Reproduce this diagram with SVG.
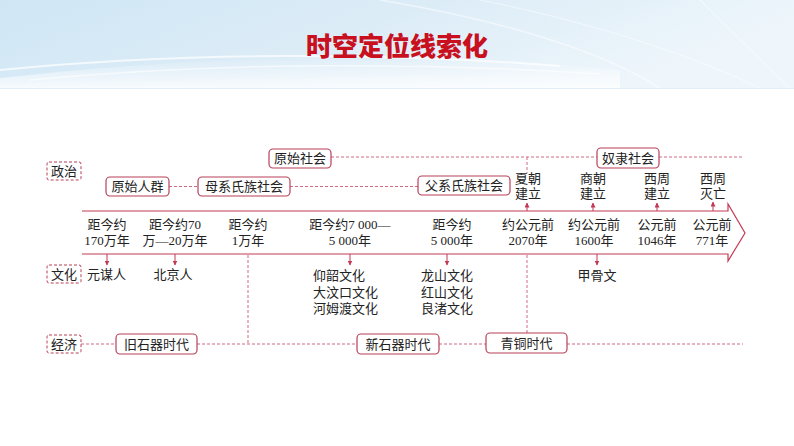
<svg xmlns="http://www.w3.org/2000/svg" width="794" height="446" viewBox="0 0 794 446">
<defs>
<linearGradient id="hdr" x1="0" y1="0" x2="1" y2="0.3">
<stop offset="0" stop-color="#cfe6f5"/>
<stop offset="0.5" stop-color="#dcecf7"/>
<stop offset="1" stop-color="#eef6fb"/>
</linearGradient>
<linearGradient id="hdrb" x1="0" y1="0" x2="0" y2="1">
<stop offset="0" stop-color="#ffffff" stop-opacity="0"/>
<stop offset="1" stop-color="#ffffff" stop-opacity="0.8"/>
</linearGradient>
<marker id="ah" viewBox="0 0 10 10" refX="9" refY="5" markerWidth="5" markerHeight="5" orient="auto">
<path d="M0,0 L10,5 L0,10 Z" fill="#c43a55"/>
</marker>
<style>
.t{font-family:"Liberation Serif","Noto Sans CJK SC",serif;font-size:13px;fill:#222;}
.c{text-anchor:middle;}
.box{fill:#fff;stroke:#b8405a;stroke-width:1.2;}
.dbox{fill:#fff;stroke:#b8405a;stroke-width:1;stroke-dasharray:3,2;}
.dl{stroke:#cf6a82;stroke-width:1;stroke-dasharray:3,2;fill:none;}
.ln{stroke:#c43a55;stroke-width:1.2;fill:none;}
.ar{stroke:#c43a55;stroke-width:1;fill:none;marker-end:url(#ah);}
</style>
</defs>
<rect width="794" height="446" fill="#fff"/>
<g id="header">
<rect x="0" y="0" width="794" height="88" fill="url(#hdr)"/>
<path d="M0,78 C200,55 420,50 620,70 L620,88 L0,88 Z" fill="url(#hdrb)"/>
<path d="M0,70 C180,52 380,52 560,66" stroke="#fff" stroke-width="2" fill="none" opacity="0.7"/>
<path d="M30,80 C220,62 420,62 600,74" stroke="#fff" stroke-width="1.5" fill="none" opacity="0.6"/>
<path d="M380,0 C500,20 600,50 660,88" stroke="#fff" stroke-width="1.5" fill="none" opacity="0.5"/>
<path d="M480,0 C580,20 680,50 760,88" stroke="#fff" stroke-width="1" fill="none" opacity="0.5"/>
<path d="M700,0 C730,30 760,60 790,88" stroke="#fff" stroke-width="1" fill="none" opacity="0.6"/>
<line x1="0" y1="88.5" x2="794" y2="88.5" stroke="#e3eef6" stroke-width="1"/>
<text x="397" y="56" text-anchor="middle" font-family="'Noto Sans CJK SC',sans-serif" font-weight="900" font-size="26" fill="#c8101e">时空定位线索化</text>
</g>
<g id="connectors">
<path class="dl" d="M331,157 H597 M659,157 H743"/>
<path class="dl" d="M169,186.5 H198 M290,186.5 H418"/>
<path class="dl" d="M527,157 V173"/>
<path class="dl" d="M248,255 V343"/>
<path class="dl" d="M527,255 V333"/>
<path class="dl" d="M81,344 H116 M197,344 H357 M439,344 H486 M567,344 H743"/>
<path class="ar" d="M527,211 V203"/>
<path class="ar" d="M593,211 V203"/>
<path class="ar" d="M657,211 V203"/>
<path class="ar" d="M713,211 V202"/>
<path class="ar" d="M107,254 V265"/>
<path class="ar" d="M175,254 V265"/>
<path class="ar" d="M350,254 V265"/>
<path class="ar" d="M447,254 V265"/>
<path class="ar" d="M597,254 V265"/>
</g>
<g id="timeline">
<path class="ln" d="M82,211 H728 V204 L745,233 L728,261 V254 H82"/>
</g>
<g id="label-zhengzhi"><rect class="dbox" x="47" y="162" width="34" height="18" rx="2"/><text class="t c" x="64" y="176">政治</text></g>
<g id="label-wenhua"><rect class="dbox" x="47" y="265" width="34" height="18" rx="2"/><text class="t c" x="64" y="279">文化</text></g>
<g id="label-jingji"><rect class="dbox" x="47" y="335" width="34" height="18" rx="2"/><text class="t c" x="64" y="349">经济</text></g>
<g id="n-yuanshishehui"><rect class="box" x="269" y="149" width="62" height="19" rx="4"/><text class="t c" x="300" y="163">原始社会</text></g>
<g id="n-nulishehui"><rect class="box" x="597" y="148" width="62" height="20" rx="4"/><text class="t c" x="628" y="163">奴隶社会</text></g>
<g id="n-yuanshirenqun"><rect class="box" x="106" y="177" width="63" height="19" rx="4"/><text class="t c" x="137.5" y="191">原始人群</text></g>
<g id="n-muxi"><rect class="box" x="198" y="177" width="92" height="19" rx="4"/><text class="t c" x="244" y="191">母系氏族社会</text></g>
<g id="n-fuxi"><rect class="box" x="418" y="176" width="92" height="19" rx="4"/><text class="t c" x="464" y="190">父系氏族社会</text></g>
<g id="n-xia"><text class="t c" x="528" y="183">夏朝</text><text class="t c" x="528" y="198">建立</text></g>
<g id="n-shang"><text class="t c" x="593" y="183">商朝</text><text class="t c" x="593" y="198">建立</text></g>
<g id="n-xizhou1"><text class="t c" x="657" y="183">西周</text><text class="t c" x="657" y="198">建立</text></g>
<g id="n-xizhou2"><text class="t c" x="713" y="183">西周</text><text class="t c" x="713" y="198">灭亡</text></g>
<g id="d1"><text class="t c" x="107" y="229">距今约</text><text class="t c" x="107" y="245">170万年</text></g>
<g id="d2"><text class="t c" x="175" y="229">距今约70</text><text class="t c" x="175" y="245">万—20万年</text></g>
<g id="d3"><text class="t c" x="248" y="229">距今约</text><text class="t c" x="248" y="245">1万年</text></g>
<g id="d4"><text class="t c" x="350" y="229">距今约7 000—</text><text class="t c" x="350" y="245">5 000年</text></g>
<g id="d5"><text class="t c" x="452" y="229">距今约</text><text class="t c" x="452" y="245">5 000年</text></g>
<g id="d6"><text class="t c" x="528" y="229">约公元前</text><text class="t c" x="528" y="245">2070年</text></g>
<g id="d7"><text class="t c" x="594" y="229">约公元前</text><text class="t c" x="594" y="245">1600年</text></g>
<g id="d8"><text class="t c" x="657" y="229">公元前</text><text class="t c" x="657" y="245">1046年</text></g>
<g id="d9"><text class="t c" x="712" y="229">公元前</text><text class="t c" x="712" y="245">771年</text></g>
<g id="c-yuanmou"><text class="t" x="87" y="279">元谋人</text></g>
<g id="c-beijing"><text class="t c" x="173" y="279">北京人</text></g>
<g id="c-yangshao"><text class="t" x="313" y="280">仰韶文化</text><text class="t" x="313" y="297">大汶口文化</text><text class="t" x="313" y="313">河姆渡文化</text></g>
<g id="c-longshan"><text class="t" x="421" y="280">龙山文化</text><text class="t" x="421" y="297">红山文化</text><text class="t" x="421" y="313">良渚文化</text></g>
<g id="c-jiagu"><text class="t c" x="597" y="280">甲骨文</text></g>
<g id="e-jiushiqi"><rect class="box" x="116" y="334" width="81" height="20" rx="4"/><text class="t c" x="156.5" y="349">旧石器时代</text></g>
<g id="e-xinshiqi"><rect class="box" x="357" y="334" width="82" height="20" rx="4"/><text class="t c" x="398" y="349">新石器时代</text></g>
<g id="e-qingtong"><rect class="box" x="486" y="333" width="81" height="20" rx="4"/><text class="t c" x="526.5" y="348">青铜时代</text></g>
</svg>
